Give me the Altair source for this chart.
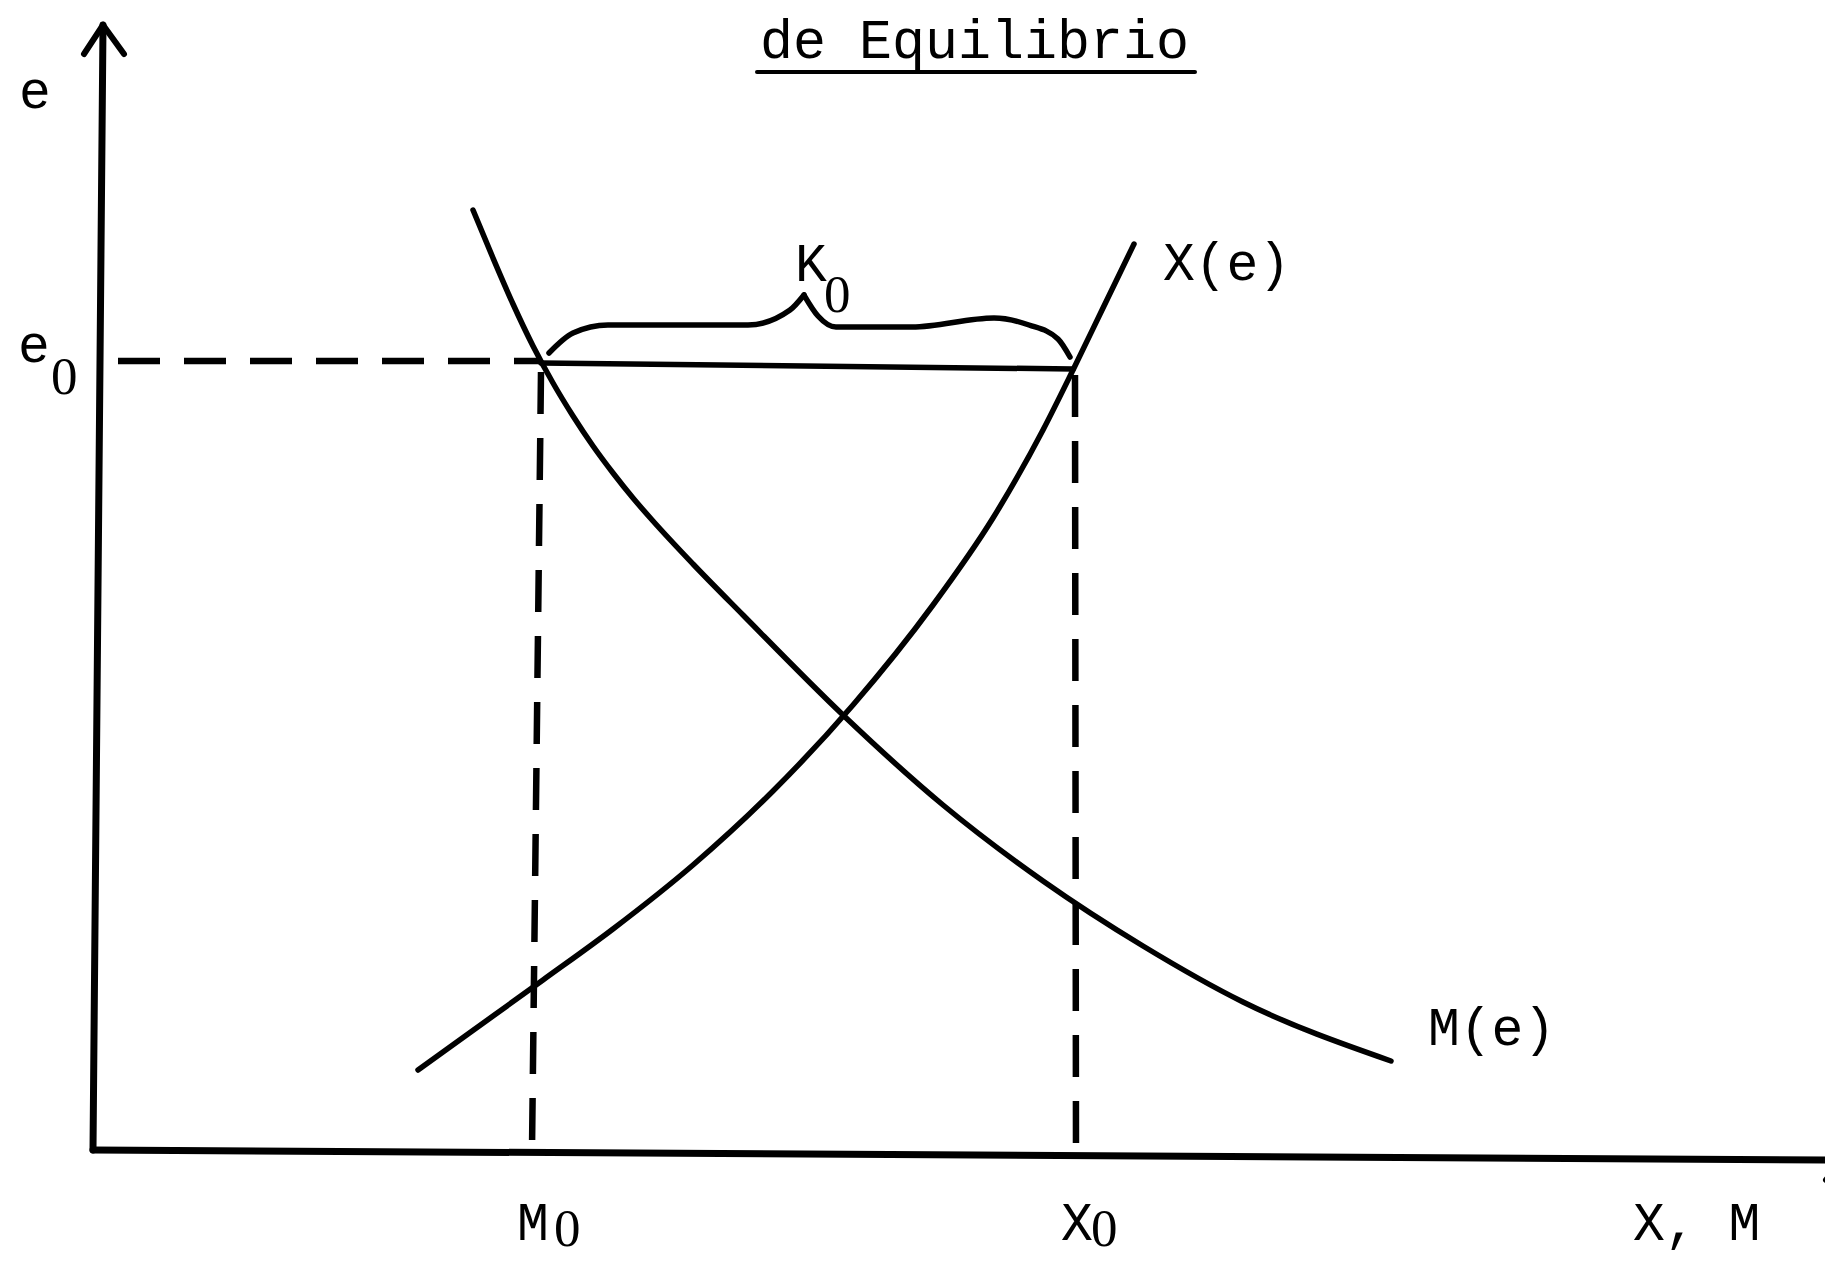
import altair as alt
import pandas as pd

# Coordinates: origin where the axes meet; x to the right, y upward (arbitrary units)
# M(e) import demand curve
m_x = [380, 400, 420, 440, 460, 480, 500, 520, 540, 560, 600, 650, 750, 850, 950, 1050, 1150, 1298]
m_y = [940, 892, 846, 804, 767, 734, 704, 677, 652, 629, 586, 535, 435, 345, 269, 204, 148, 89]

# X(e) export supply curve
x_x = [325, 375, 450, 520, 600, 680, 760, 840, 900, 950, 980, 1010, 1041]
x_y = [80, 116, 170, 221, 285, 359, 445, 545, 632, 720, 780, 842, 906]

# Brace over K0 (two halves meeting at the cusp)
brace_l_x = [456, 480, 515, 655, 697, 711]
brace_l_y = [797, 817, 825, 825, 840, 855]
brace_r_x = [711, 725, 743, 819, 901, 936, 965, 977]
brace_r_y = [855, 834, 823, 823, 832, 825, 811, 793]

# Solid segments: axes, arrowheads, e0 segment, title underline
solid_x1 = [0, 10, 10, 0, 1750, 1750, 448, 664]
solid_y1 = [0, 1125, 1125, 0, -10, -10, 787, 1078]
solid_x2 = [10, -9, 31, 1750, 1733, 1735, 980, 1102]
solid_y2 = [1125, 1096, 1096, -10, -30, 6, 781, 1078]
solid_w = [7, 6, 6, 7, 6, 6, 5.5, 4]

# Dashed guide lines
dash_x1 = [25, 448, 982]
dash_y1 = [789, 778, 775]
dash_x2 = [448, 439, 983]
dash_y2 = [789, 0, -8]

# Text labels
labels = ["de Equilibrio", "e", "e", "0", "K", "0", "X(e)", "M(e)", "M", "0", "X", "0", "X, M"]
label_x = [667, -74, -75, -42, 702, 731, 1070, 1335, 424, 461, 968, 998, 1540]
label_y = [1092, 1042, 788, 756, 869, 838, 870, 105, -90, -96, -90, -96, -90]
label_size = [55, 53, 53, 53, 53, 53, 53, 53, 53, 53, 53, 53, 53]
label_font = ["Liberation Mono", "Liberation Mono", "Liberation Mono", "Liberation Serif",
              "Liberation Mono", "Liberation Serif", "Liberation Mono", "Liberation Mono",
              "Liberation Mono", "Liberation Serif", "Liberation Mono", "Liberation Serif",
              "Liberation Mono"]

xs = alt.Scale(domain=[-85, 1732], nice=False, zero=False)
ys = alt.Scale(domain=[-108, 1142], nice=False, zero=False)

curves = pd.DataFrame(
    [{"curve": "M", "order": i, "x": a, "y": b} for i, (a, b) in enumerate(zip(m_x, m_y))]
    + [{"curve": "X", "order": i, "x": a, "y": b} for i, (a, b) in enumerate(zip(x_x, x_y))]
)
brace = pd.DataFrame(
    [{"curve": "L", "order": i, "x": a, "y": b} for i, (a, b) in enumerate(zip(brace_l_x, brace_l_y))]
    + [{"curve": "R", "order": i, "x": a, "y": b} for i, (a, b) in enumerate(zip(brace_r_x, brace_r_y))]
)
solid = pd.DataFrame({"x": solid_x1, "y": solid_y1, "x2": solid_x2, "y2": solid_y2, "w": solid_w})
dashed = pd.DataFrame({"x": dash_x1, "y": dash_y1, "x2": dash_x2, "y2": dash_y2})
texts = pd.DataFrame({"t": labels, "x": label_x, "y": label_y, "s": label_size, "f": label_font})

curve_layer = alt.Chart(curves).mark_line(
    color="black", strokeWidth=5.5, interpolate="monotone", strokeCap="round"
).encode(
    x=alt.X("x:Q", scale=xs, axis=None),
    y=alt.Y("y:Q", scale=ys, axis=None),
    detail="curve:N",
    order="order:Q",
)

brace_layer = alt.Chart(brace).mark_line(
    color="black", strokeWidth=5.5, interpolate="monotone", strokeCap="round"
).encode(
    x=alt.X("x:Q", scale=xs, axis=None),
    y=alt.Y("y:Q", scale=ys, axis=None),
    detail="curve:N",
    order="order:Q",
)

solid_layer = alt.Chart(solid).mark_rule(color="black", strokeCap="round").encode(
    x=alt.X("x:Q", scale=xs, axis=None),
    y=alt.Y("y:Q", scale=ys, axis=None),
    x2="x2:Q",
    y2="y2:Q",
    strokeWidth=alt.StrokeWidth("w:Q", scale=None, legend=None),
)

dash_layer = alt.Chart(dashed).mark_rule(
    color="black", strokeWidth=6.5, strokeDash=[42, 24]
).encode(
    x=alt.X("x:Q", scale=xs, axis=None),
    y=alt.Y("y:Q", scale=ys, axis=None),
    x2="x2:Q",
    y2="y2:Q",
)

text_layers = []
for fnt in ["Liberation Mono", "Liberation Serif"]:
    text_layers.append(
        alt.Chart(texts[texts["f"] == fnt]).mark_text(
            align="left", baseline="alphabetic", font=fnt, color="black"
        ).encode(
            x=alt.X("x:Q", scale=xs, axis=None),
            y=alt.Y("y:Q", scale=ys, axis=None),
            text="t:N",
            size=alt.Size("s:Q", scale=None, legend=None),
        )
    )

chart = alt.layer(
    dash_layer, solid_layer, curve_layer, brace_layer, *text_layers
).properties(
    width=1817, height=1250, autosize="none", padding=0, background="white"
).configure_view(stroke=None)

chart.save("out.html", embed_options={"renderer": "svg", "actions": False})
